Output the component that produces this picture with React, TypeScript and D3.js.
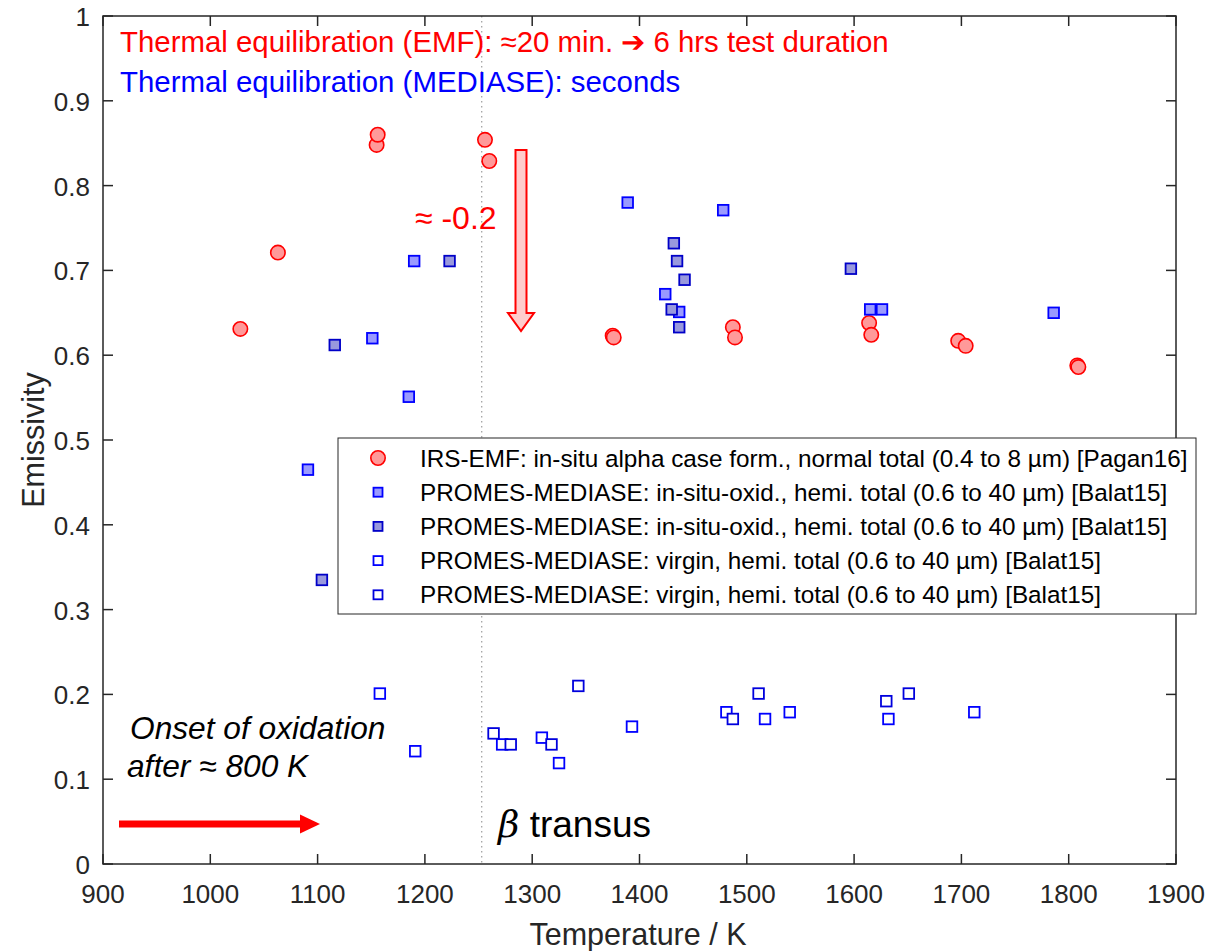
import React from "react";
import * as d3 from "d3";

// ---- data ----
const emfT = [1028, 1063, 1155, 1156, 1256, 1260, 1375, 1376, 1487, 1489, 1614, 1616, 1697, 1704, 1808, 1809];
const emfE = [0.631, 0.721, 0.848, 0.860, 0.854, 0.829, 0.623, 0.621, 0.633, 0.621, 0.638, 0.624, 0.617, 0.611, 0.588, 0.586];

const oxAT = [1190, 1151, 1185, 1091, 1389, 1478, 1424, 1437, 1615, 1626, 1786];
const oxAE = [0.711, 0.620, 0.551, 0.465, 0.780, 0.771, 0.672, 0.651, 0.654, 0.654, 0.650];

const oxBT = [1223, 1116, 1104, 1432, 1435, 1442, 1430, 1437, 1597];
const oxBE = [0.711, 0.612, 0.335, 0.732, 0.711, 0.689, 0.654, 0.633, 0.702];

const virAT = [1158, 1191, 1272, 1309, 1325, 1393, 1481, 1517, 1540, 1632, 1712];
const virAE = [0.201, 0.133, 0.141, 0.149, 0.119, 0.162, 0.179, 0.171, 0.179, 0.171, 0.179];

const virBT = [1264, 1280, 1318, 1343, 1487, 1511, 1630, 1651];
const virBE = [0.154, 0.141, 0.141, 0.210, 0.171, 0.201, 0.192, 0.201];

const xTicks = [900, 1000, 1100, 1200, 1300, 1400, 1500, 1600, 1700, 1800, 1900];
const yTicks = [0, 0.1, 0.2, 0.3, 0.4, 0.5, 0.6, 0.7, 0.8, 0.9, 1];
const betaTransus = 1253;

const legendLabels = [
  "IRS-EMF: in-situ alpha case form., normal total (0.4 to 8 µm) [Pagan16]",
  "PROMES-MEDIASE: in-situ-oxid., hemi. total (0.6 to 40 µm) [Balat15]",
  "PROMES-MEDIASE: in-situ-oxid., hemi. total (0.6 to 40 µm) [Balat15]",
  "PROMES-MEDIASE: virgin, hemi. total (0.6 to 40 µm) [Balat15]",
  "PROMES-MEDIASE: virgin, hemi. total (0.6 to 40 µm) [Balat15]",
];

const FONT = "'Liberation Sans', Arial, Helvetica, sans-serif";

type Style = { shape: "circle" | "square"; fill: string; stroke: string };
const styles: Style[] = [
  { shape: "circle", fill: "#ff9999", stroke: "#ff0000" },
  { shape: "square", fill: "#9a9aff", stroke: "#0000ff" },
  { shape: "square", fill: "#9999dd", stroke: "#0000c8" },
  { shape: "square", fill: "#ffffff", stroke: "#0000ff" },
  { shape: "square", fill: "#ffffff", stroke: "#0000dd" },
];

export default function App() {
  const W = 1208, H = 951;
  const L = 103, R = 1176, T = 16, B = 864;
  const x = d3.scaleLinear().domain([900, 1900]).range([L, R]);
  const y = d3.scaleLinear().domain([0, 1]).range([B, T]);

  const series = [
    { t: emfT, e: emfE, s: styles[0] },
    { t: oxAT, e: oxAE, s: styles[1] },
    { t: oxBT, e: oxBE, s: styles[2] },
    { t: virAT, e: virAE, s: styles[3] },
    { t: virBT, e: virBE, s: styles[4] },
  ];

  const marker = (s: Style, cx: number, cy: number, key: string, size = 1) => {
    if (s.shape === "circle") {
      return <circle key={key} cx={cx} cy={cy} r={7.2 * size} fill={s.fill} stroke={s.stroke} strokeWidth={1.6} />;
    }
    const h = 5.3 * size;
    return <rect key={key} x={cx - h} y={cy - h} width={2 * h} height={2 * h} fill={s.fill} stroke={s.stroke} strokeWidth={1.8} />;
  };

  const tickLen = 10;
  const axisColor = "#262626";

  const ax = 521, ayTop = 150, ayBot = 331;
  const downArrow = `M${ax - 5.5},${ayTop} L${ax + 5.5},${ayTop} L${ax + 5.5},${ayBot - 18} L${ax + 13},${ayBot - 18} L${ax},${ayBot} L${ax - 13},${ayBot - 18} L${ax - 5.5},${ayBot - 18} Z`;

  const legX = 338, legY = 438, legW = 858, legH = 176;

  return (
    <svg width={W} height={H} style={{ position: "absolute", left: 0, top: 0, background: "#fff" }} fontFamily={FONT}>
      <rect x={0} y={0} width={W} height={H} fill="#fff" />

      <line x1={x(betaTransus)} x2={x(betaTransus)} y1={T} y2={B} stroke="#888" strokeWidth={1} strokeDasharray="1.5,3.5" />

      <rect x={L} y={T} width={R - L} height={B - T} fill="none" stroke={axisColor} strokeWidth={1.5} />
      {xTicks.map((v) => (
        <g key={"xt" + v}>
          <line x1={x(v)} x2={x(v)} y1={B} y2={B - tickLen} stroke={axisColor} strokeWidth={1.5} />
          <line x1={x(v)} x2={x(v)} y1={T} y2={T + tickLen} stroke={axisColor} strokeWidth={1.5} />
          <text x={x(v)} y={903} textAnchor="middle" fontSize={26} fill={axisColor}>{v}</text>
        </g>
      ))}
      {yTicks.map((v) => (
        <g key={"yt" + v}>
          <line x1={L} x2={L + tickLen} y1={y(v)} y2={y(v)} stroke={axisColor} strokeWidth={1.5} />
          <line x1={R} x2={R - tickLen} y1={y(v)} y2={y(v)} stroke={axisColor} strokeWidth={1.5} />
          <text x={L - 13} y={y(v) + 10} textAnchor="end" fontSize={26} fill={axisColor}>{String(v)}</text>
        </g>
      ))}
      <text x={638} y={945} textAnchor="middle" fontSize={30.5} fill={axisColor}>Temperature / K</text>
      <text transform={`translate(44, ${(T + B) / 2}) rotate(-90)`} textAnchor="middle" fontSize={30.5} fill={axisColor}>Emissivity</text>

      {series.map((sr, i) => (
        <g key={"s" + i}>
          {sr.t.map((t, j) => marker(sr.s, x(t), y(sr.e[j]), `m${i}-${j}`))}
        </g>
      ))}

      <text x={120} y={52} fontSize={29.4} fill="#ff0000">Thermal equilibration (EMF): ≈20 min. ➔ 6 hrs test duration</text>
      <text x={120} y={92} fontSize={29.4} fill="#0000ff">Thermal equilibration (MEDIASE): seconds</text>
      <text x={415} y={229} fontSize={32} fill="#ff0000">≈ -0.2</text>
      <path d={downArrow} fill="#ffcccc" stroke="#ff0000" strokeWidth={2} />

      <text x={130} y={739} fontSize={31.7} fontStyle="italic" fill="#000">Onset of oxidation</text>
      <text x={127} y={777} fontSize={31.7} fontStyle="italic" fill="#000">after ≈ 800 K</text>
      <line x1={119} x2={302} y1={824} y2={824} stroke="#ff0000" strokeWidth={7} />
      <path d={`M300,814.5 L320,824 L300,833.5 Z`} fill="#ff0000" />

      <text x={498} y={837} fontSize={37} fill="#000">
        <tspan fontStyle="italic" fontFamily="'DejaVu Serif', serif">β</tspan>
        <tspan> transus</tspan>
      </text>

      <rect x={legX} y={legY} width={legW} height={legH} fill="#fff" stroke="#262626" strokeWidth={1} />
      {legendLabels.map((lab, i) => {
        const cy = legY + 20 + i * 34.2;
        return (
          <g key={"lg" + i}>
            {marker(styles[i], 378, cy, "lgm" + i, i === 0 ? 1 : 0.85)}
            <text x={420} y={cy + 8.5} fontSize={24.3} fill="#000">{lab}</text>
          </g>
        );
      })}
    </svg>
  );
}
